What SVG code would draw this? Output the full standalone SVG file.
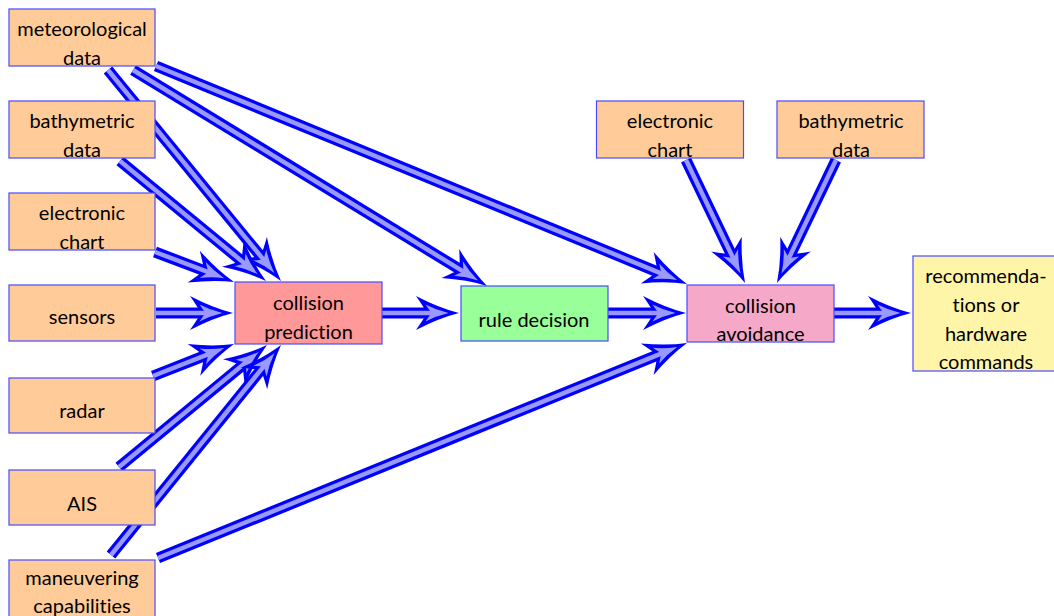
<svg xmlns="http://www.w3.org/2000/svg" width="1054" height="616" viewBox="0 0 1054 616">
<style>
.box{stroke:#4a4aff;stroke-width:1.2}
.src{fill:#ffcc99}
text{font-family:Lato,"Open Sans","Liberation Sans",sans-serif;font-size:20px;fill:#000;text-anchor:middle;font-variant-ligatures:none}
.o{fill:none;stroke:#0000ff;stroke-width:11;marker-end:url(#ho)}
.i{fill:none;stroke:#9999ff;stroke-width:4.5;marker-end:url(#hi)}
</style>
<defs>
<marker id="ho" markerUnits="userSpaceOnUse" orient="auto" viewBox="-15 -20 55 40" markerWidth="55" markerHeight="40" refX="0" refY="0">
<path d="M32,0 Q12,-5 -11,-17 Q-4,-7 0,0 Q-4,7 -11,17 Q12,5 32,0 Z" fill="#0000ff"/>
</marker>
<marker id="hi" markerUnits="userSpaceOnUse" orient="auto" viewBox="-15 -20 55 40" markerWidth="55" markerHeight="40" refX="6" refY="0">
<path d="M21.5,0 Q9,-3 -1.5,-8.5 Q1.5,-4 4.5,0 Q1.5,4 -1.5,8.5 Q9,3 21.5,0 Z" fill="#9999ff"/>
</marker>
</defs>
<g id="connectors">
<g id="e1"><path class="o" d="M108,70 L260.7,256.3"/><path class="i" d="M108,70 L264.5,260.9"/></g>
<g id="e2"><path class="o" d="M133,70 L459.7,269.3"/><path class="i" d="M133,70 L464.8,272.4"/></g>
<g id="e3"><path class="o" d="M156,66 L657.4,271.85"/><path class="i" d="M156,66 L662.9,274.1"/></g>
<g id="e4"><path class="o" d="M120,161 L241.3,260.7"/><path class="i" d="M120,161 L245.9,264.5"/></g>
<g id="e5"><path class="o" d="M155,252 L204.1,270.6"/><path class="i" d="M155,252 L209.7,272.7"/></g>
<g id="e6"><path class="o" d="M156,313 L201,313"/><path class="i" d="M156,313 L207,313"/></g>
<g id="e7"><path class="o" d="M153,376 L204.2,355.8"/><path class="i" d="M153,376 L209.8,353.6"/></g>
<g id="e8"><path class="o" d="M119,467 L242.3,365.4"/><path class="i" d="M119,467 L246.9,361.6"/></g>
<g id="e9"><path class="o" d="M111,555 L260.9,369.9"/><path class="i" d="M111,555 L264.7,365.2"/></g>
<g id="e10"><path class="o" d="M158,558 L657.4,355.05"/><path class="i" d="M158,558 L662.9,352.8"/></g>
<g id="e11"><path class="o" d="M382,313 L427,313"/><path class="i" d="M382,313 L433,313"/></g>
<g id="e12"><path class="o" d="M608,313 L654,313"/><path class="i" d="M608,313 L660,313"/></g>
<g id="e13"><path class="o" d="M686,160 L731.2,254.1"/><path class="i" d="M686,160 L733.8,259.5"/></g>
<g id="e14"><path class="o" d="M836,160 L790.8,254.1"/><path class="i" d="M836,160 L788.2,259.5"/></g>
<g id="e15"><path class="o" d="M834,313 L879,313"/><path class="i" d="M834,313 L885,313"/></g>
</g>
<g id="meteo"><rect class="box src" x="9" y="9" width="146" height="57"/><text x="82" y="36">meteorological</text><text x="82" y="65">data</text></g>
<g id="bathy1"><rect class="box src" x="9" y="101" width="146" height="57"/><text x="82" y="128">bathymetric</text><text x="82" y="157">data</text></g>
<g id="chart1"><rect class="box src" x="9" y="193" width="146" height="57"/><text x="82" y="220">electronic</text><text x="82" y="249">chart</text></g>
<g id="sensors"><rect class="box src" x="9" y="285" width="146" height="56"/><text x="82" y="324">sensors</text></g>
<g id="radar"><rect class="box src" x="9" y="378" width="146" height="55"/><text x="82" y="418">radar</text></g>
<g id="ais"><rect class="box src" x="9" y="470" width="146" height="55"/><text x="82" y="511">AIS</text></g>
<g id="maneuv"><rect class="box src" x="9" y="560" width="146" height="60"/><text x="82" y="585">maneuvering</text><text x="82" y="613">capabilities</text></g>
<g id="cpred"><rect class="box" fill="#ff9999" x="235" y="282" width="147" height="62"/><text x="308.5" y="310">collision</text><text x="308.5" y="339">prediction</text></g>
<g id="rule"><rect class="box" fill="#99ff99" x="461" y="286" width="147" height="55"/><text x="534" y="327">rule decision</text></g>
<g id="cavoid"><rect class="box" fill="#f5a8c8" x="687" y="285" width="147" height="57"/><text x="760.5" y="313">collision</text><text x="760.5" y="341">avoidance</text></g>
<g id="chart2"><rect class="box src" x="596.5" y="101" width="147" height="57"/><text x="670" y="128">electronic</text><text x="670" y="157">chart</text></g>
<g id="bathy2"><rect class="box src" x="777" y="101" width="147" height="57"/><text x="851" y="128">bathymetric</text><text x="851" y="157">data</text></g>
<g id="recom"><rect class="box" fill="#fff5a8" x="913" y="256" width="147" height="115"/><text x="986" y="283">recommenda-</text><text x="986" y="312">tions or</text><text x="986" y="341">hardware</text><text x="986" y="369">commands</text></g>
</svg>
